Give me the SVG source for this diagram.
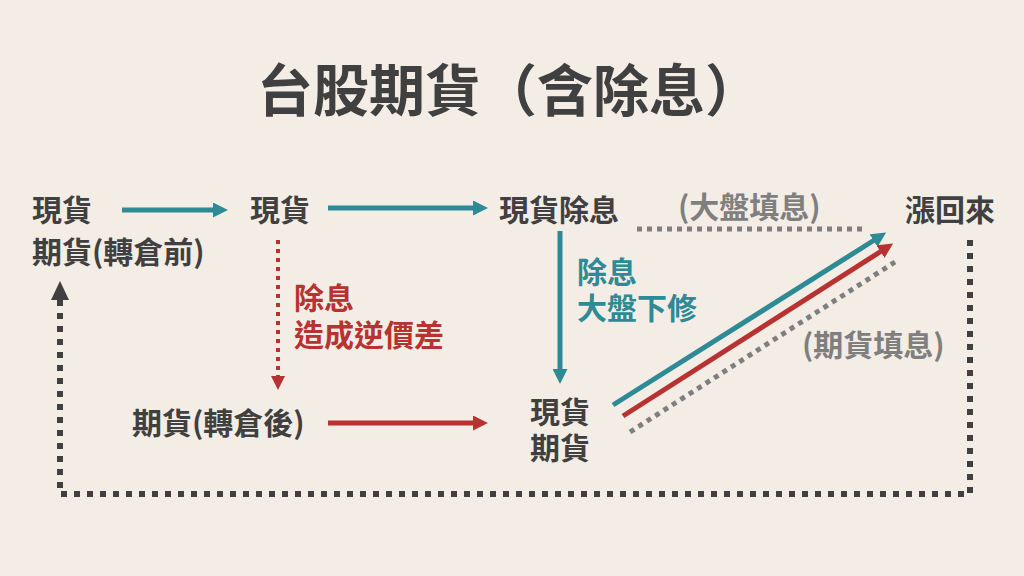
<svg xmlns="http://www.w3.org/2000/svg" width="1024" height="576" viewBox="0 0 1024 576">
<defs>
<style>
text{font-family:"Noto Sans CJK TC","Noto Sans CJK SC",sans-serif;font-weight:bold;}
.t{font-size:56px;fill:#404040;}
.n{font-size:30px;fill:#404040;}
.r{font-size:30px;fill:#b83232;}
.c{font-size:30px;fill:#2e8a94;}
.g{font-size:30px;fill:#7f7f7f;}
.lt{stroke:#2e8a94;stroke-width:5;fill:none;}
.lr{stroke:#b83232;stroke-width:5;fill:none;}
</style>
<marker id="at" viewBox="0 0 10 10" refX="2" refY="5" markerWidth="3" markerHeight="3" orient="auto" markerUnits="strokeWidth"><path d="M0,0L10,5L0,10z" fill="#2e8a94"/></marker>
<marker id="ar" viewBox="0 0 10 10" refX="2" refY="5" markerWidth="3" markerHeight="3" orient="auto" markerUnits="strokeWidth"><path d="M0,0L10,5L0,10z" fill="#b83232"/></marker>
</defs>
<rect width="1024" height="576" fill="#f3ede6"/>
<g id="title"><text class="t" x="257" y="111">台股期貨（含除息）</text></g>
<g id="n1"><text class="n" x="32" y="221">現貨</text><text class="n" x="32" y="263">期貨(轉倉前)</text></g>
<g id="n2"><text class="n" x="250" y="221">現貨</text></g>
<g id="n3"><text class="n" x="499" y="221">現貨除息</text></g>
<g id="n4"><text class="n" x="905" y="221">漲回來</text></g>
<g id="n5"><text class="n" x="132" y="434">期貨(轉倉後)</text></g>
<g id="n6"><text class="n" x="530" y="423">現貨</text><text class="n" x="530" y="459">期貨</text></g>
<g id="labels">
<text class="r" x="294" y="309">除息</text>
<text class="r" x="294" y="346">造成逆價差</text>
<text class="c" x="577" y="283">除息</text>
<text class="c" x="577" y="319">大盤下修</text>
<text class="g" x="678" y="218">(大盤填息)</text>
<text class="g" x="802" y="356">(期貨填息)</text>
</g>
<g id="connectors">
<line class="lt" x1="122" y1="210" x2="216" y2="210" marker-end="url(#at)"/>
<line class="lt" x1="328" y1="208" x2="476" y2="208" marker-end="url(#at)"/>
<line class="lr" x1="328" y1="423" x2="476" y2="423" marker-end="url(#ar)"/>
<line class="lt" x1="560" y1="231" x2="560" y2="372" marker-end="url(#at)"/>
<line x1="278" y1="240" x2="278" y2="376" stroke="#b83232" stroke-width="4" stroke-dasharray="4 5"/>
<path d="M271,376L285,376L278,390z" fill="#b83232"/>
<line class="lt" x1="613" y1="405" x2="876" y2="239" marker-end="url(#at)"/>
<line class="lr" x1="623" y1="416" x2="883" y2="250" marker-end="url(#ar)"/>
<line x1="630" y1="432" x2="895" y2="262" stroke="#7f7f7f" stroke-width="5" stroke-dasharray="5 5"/>
<line x1="637" y1="229" x2="865" y2="229" stroke="#7f7f7f" stroke-width="5" stroke-dasharray="5 5"/>
<path d="M970,240L970,494L60,494L60,300" fill="none" stroke="#404040" stroke-width="6" stroke-dasharray="6 7"/>
<path d="M51,300L69,300L60,281z" fill="#404040"/>
</g>
</svg>
